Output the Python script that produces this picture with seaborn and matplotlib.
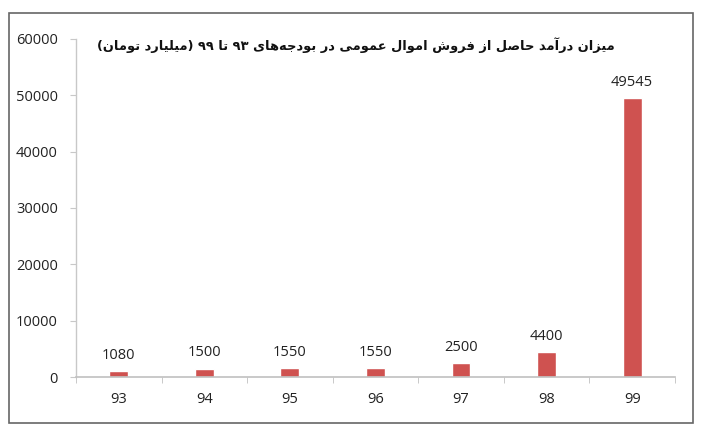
import re
import pandas as pd
import matplotlib
matplotlib.use("Agg")
import matplotlib.pyplot as plt
import seaborn as sns
from matplotlib.patches import Rectangle

years = ["93", "94", "95", "96", "97", "98", "99"]
income = [1080, 1500, 1550, 1550, 2500, 4400, 49545]
yticks = [0, 10000, 20000, 30000, 40000, 50000, 60000]
title = "میزان درآمد حاصل از فروش اموال عمومی در بودجه\u200cهای ۹۳ تا ۹۹ (میلیارد تومان)"

# matplotlib has no arabic shaping, so pick presentation forms by hand
FORMS = {
    "ا": ("\uFE8D", "\uFE8E"), "آ": ("\uFE81", "\uFE82"),
    "د": ("\uFEA9", "\uFEAA"), "ر": ("\uFEAD", "\uFEAE"),
    "ز": ("\uFEAF", "\uFEB0"), "و": ("\uFEED", "\uFEEE"),
    "ب": ("\uFE8F", "\uFE90", "\uFE91", "\uFE92"),
    "ت": ("\uFE95", "\uFE96", "\uFE97", "\uFE98"),
    "ج": ("\uFE9D", "\uFE9E", "\uFE9F", "\uFEA0"),
    "ح": ("\uFEA1", "\uFEA2", "\uFEA3", "\uFEA4"),
    "ش": ("\uFEB5", "\uFEB6", "\uFEB7", "\uFEB8"),
    "ص": ("\uFEB9", "\uFEBA", "\uFEBB", "\uFEBC"),
    "ع": ("\uFEC9", "\uFECA", "\uFECB", "\uFECC"),
    "ف": ("\uFED1", "\uFED2", "\uFED3", "\uFED4"),
    "ل": ("\uFEDD", "\uFEDE", "\uFEDF", "\uFEE0"),
    "م": ("\uFEE1", "\uFEE2", "\uFEE3", "\uFEE4"),
    "ن": ("\uFEE5", "\uFEE6", "\uFEE7", "\uFEE8"),
    "ه": ("\uFEE9", "\uFEEA", "\uFEEB", "\uFEEC"),
    "ی": ("\uFBFC", "\uFBFD", "\uFBFE", "\uFBFF"),
}


def shape_rtl(s):
    out = []
    for i, c in enumerate(s):
        if c not in FORMS:
            if c != "\u200c":
                out.append(c)
            continue
        prev = s[i - 1] if i > 0 else ""
        nxt = s[i + 1] if i + 1 < len(s) else ""
        join_prev = prev in FORMS and len(FORMS[prev]) == 4
        join_next = len(FORMS[c]) == 4 and nxt in FORMS
        f = FORMS[c]
        if join_prev and join_next:
            out.append(f[3])
        elif join_prev:
            out.append(f[1])
        elif join_next:
            out.append(f[2])
        else:
            out.append(f[0])
    vis = "".join(out)[::-1]
    vis = vis.translate(str.maketrans("()", ")("))
    vis = re.sub(r"[0-9\u06F0-\u06F9]+", lambda m: m.group(0)[::-1], vis)
    return vis


df = pd.DataFrame({"year": years, "income": income})

sns.set_style("white")
plt.rcParams["font.family"] = ["Open Sans", "DejaVu Sans"]

fig = plt.figure(figsize=(7.06, 4.33), dpi=100)
ax = fig.add_axes([0.1076, 0.1293, 0.8484, 0.7807])

sns.barplot(data=df, x="year", y="income", color="#CF5250", width=0.22,
            saturation=1, ax=ax)

for c in ax.containers:
    ax.bar_label(c, labels=[str(v) for v in income], padding=6,
                 fontsize=10.5, color="#222222")

ax.set_xlim(-0.5, len(years) - 0.5)
ax.set_ylim(0, 60000)
ax.set_yticks(yticks)
ax.set_yticklabels([str(v) for v in yticks])
ax.set_xlabel("")
ax.set_ylabel("")

for side in ["top", "right"]:
    ax.spines[side].set_visible(False)
ax.spines["left"].set_color("#c8c8c8")
ax.spines["bottom"].set_color("#c0c0c0")
ax.spines["left"].set_linewidth(1)
ax.spines["bottom"].set_linewidth(1.2)

ax.tick_params(axis="y", length=4, color="#c8c8c8", labelsize=10.5,
               labelcolor="#222222", pad=9, left=True)
ax.tick_params(axis="x", which="major", length=0, labelsize=10.5,
               labelcolor="#222222", pad=11)
ax.set_xticks([i + 0.5 for i in range(-1, len(years))], minor=True)
ax.tick_params(axis="x", which="minor", length=4, color="#c0c0c0",
               bottom=True)

ax.text(0.90, 0.982, shape_rtl(title), transform=ax.transAxes,
        ha="right", va="center", fontsize=9.4, fontweight="bold",
        family="DejaVu Sans", color="#111111")

fig.add_artist(Rectangle((9 / 706, 10 / 433), 684 / 706, 410 / 433,
                         transform=fig.transFigure, fill=False,
                         edgecolor="#666666", linewidth=1.2))

fig.savefig("out.png", dpi=100)
